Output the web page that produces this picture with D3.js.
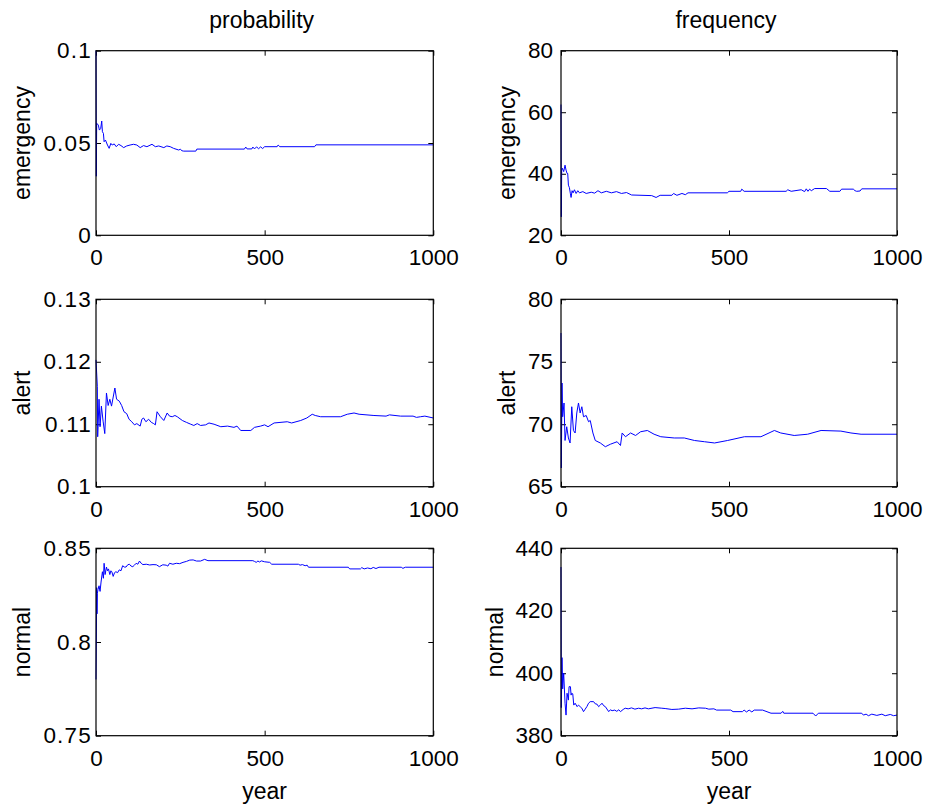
<!DOCTYPE html>
<meta charset="utf-8">
<body style="margin:0;background:#fff;">
<svg width="927" height="810"></svg>
<script src="https://cdn.jsdelivr.net/npm/d3@7"></script>
<script>
// ---- data: [year, value] ----
const xTicks = [0, 500, 1000];
const columnTitles = ["probability", "frequency"];
const rowLabels = ["emergency", "alert", "normal"];

const emergencyProbTicks = [0, 0.05, 0.1];
const alertProbTicks = [0.1, 0.11, 0.12, 0.13];
const normalProbTicks = [0.75, 0.8, 0.85];
const emergencyFreqTicks = [20, 40, 60, 80];
const alertFreqTicks = [65, 70, 75, 80];
const normalFreqTicks = [380, 400, 420, 440];

const emergencyProbability = [[0,0.1],[1,0.032],[2,0.0607],[7,0.0597],[10,0.057],[14,0.0579],[17,0.0619],[19,0.0561],
  [22,0.0552],[24,0.0507],[28,0.0516],[34,0.0489],[39,0.0471],[44,0.0498],[48,0.0489],[54,0.0495],[60,0.048],
  [67,0.0493],[74,0.0486],[82,0.0475],[91,0.0484],[101,0.0489],[111,0.0493],[121,0.0489],[131,0.0475],[141,0.0486],
  [151,0.048],[166,0.0493],[176,0.048],[186,0.0484],[201,0.0475],[210,0.0484],[220,0.048],[230,0.0471],[245,0.0462],
  [250,0.0466],[255,0.0458],[260,0.0456],[296,0.0456],[299,0.0467],[440,0.0467],[444,0.0478],[448,0.0468],
  [462,0.0468],[465,0.0478],[470,0.0468],[476,0.0479],[482,0.0469],[488,0.0479],[494,0.047],[500,0.048],
  [537,0.048],[540,0.0489],[545,0.048],[648,0.048],[652,0.049],[1000,0.049]];

const alertProbability = [[0,0.1203],[4,0.116],[5,0.108],[9,0.114],[12,0.1096],[16,0.1129],[21,0.1105],[26,0.1085],
  [31,0.115],[36,0.113],[41,0.114],[46,0.1129],[56,0.1158],[61,0.114],[69,0.1137],[76,0.113],[83,0.112],[91,0.1117],
  [98,0.1108],[106,0.1104],[114,0.1099],[121,0.1101],[131,0.1097],[136,0.1108],[141,0.111],[148,0.1104],[156,0.1108],
  [164,0.1103],[171,0.1101],[176,0.1099],[181,0.112],[191,0.1112],[201,0.1106],[211,0.1118],[218,0.1113],[226,0.1112],
  [234,0.1114],[241,0.1112],[256,0.1106],[268,0.1103],[281,0.11],[290,0.1098],[300,0.1101],[310,0.1098],[325,0.1099],
  [335,0.1102],[350,0.11],[370,0.1096],[390,0.1097],[409,0.1095],[418,0.1097],[429,0.109],[459,0.109],[470,0.1095],
  [488,0.1097],[500,0.1099],[510,0.1096],[528,0.1102],[567,0.1104],[580,0.1102],[607,0.1106],[625,0.111],
  [641,0.1116],[650,0.1114],[666,0.1112],[725,0.1112],[745,0.1116],[765,0.1118],[780,0.1116],[824,0.1114],
  [860,0.1113],[870,0.1115],[903,0.1113],[940,0.1113],[950,0.1111],[962,0.1112],[975,0.1113],[1000,0.111]];

const normalProbability = [[0,0.78],[1,0.80],[2,0.829],[3,0.815],[4,0.826],[6,0.828],[9,0.830],[12,0.827],[15,0.832],
  [19,0.8375],[22,0.834],[24,0.842],[27,0.836],[31,0.840],[34,0.838],[37,0.839],[41,0.836],[44,0.838],[47,0.8375],
  [51,0.835],[55,0.837],[59,0.8375],[64,0.837],[69,0.8385],[74,0.838],[79,0.8407],[84,0.840],[89,0.840],[94,0.8412],
  [99,0.8415],[104,0.8405],[109,0.8402],[114,0.841],[119,0.842],[124,0.8415],[129,0.8432],[134,0.842],[139,0.8413],
  [149,0.8415],[159,0.8411],[169,0.8413],[179,0.8412],[188,0.8402],[198,0.8412],[208,0.841],[213,0.8405],[218,0.842],
  [228,0.8415],[238,0.842],[248,0.8418],[258,0.8425],[268,0.843],[278,0.8437],[288,0.8438],[298,0.8432],[310,0.8432],
  [322,0.8441],[332,0.8434],[465,0.8434],[470,0.843],[475,0.8425],[480,0.8432],[485,0.8427],[490,0.8433],
  [500,0.8428],[515,0.8425],[521,0.8415],[600,0.8415],[605,0.841],[612,0.8413],[620,0.8407],[626,0.841],
  [630,0.8399],[748,0.8399],[752,0.839],[784,0.839],[788,0.8397],[795,0.839],[805,0.8395],[815,0.8391],
  [822,0.8398],[830,0.8392],[839,0.8399],[905,0.8399],[910,0.8393],[917,0.8399],[1000,0.8399]];

const emergencyFrequency = [[0,62.5],[1,26],[2,41],[4,41.8],[8,40.7],[12,42.8],[15,41.2],[18,40.1],[20,40.1],[22,36.3],
  [25,35.5],[28,33.5],[30,32.3],[33,34.5],[36,33.8],[40,34.8],[45,33.6],[50,34.5],[55,33.8],[65,34.2],[75,33.6],
  [90,34.0],[100,33.7],[110,34.5],[120,33.8],[135,34.3],[150,33.8],[165,34.2],[180,33.6],[195,33.9],[210,33.1],
  [270,32.9],[283,32.3],[295,33.0],[330,33.0],[335,33.6],[345,33.0],[360,33.6],[370,33.2],[378,33.8],[495,33.8],
  [500,34.3],[535,34.3],[538,35.0],[545,34.3],[670,34.3],[675,34.8],[685,34.3],[715,34.8],[725,34.2],[730,35.1],
  [735,34.3],[740,35.0],[745,34.5],[755,35.2],[790,35.2],[800,34.3],[830,34.3],[835,35.0],[870,35.0],[875,34.5],
  [880,34.3],[890,34.4],[895,35.1],[1000,35.1]];

const alertFrequency = [[0,77.3],[1,66.5],[3,73.3],[5,70.6],[9,71.7],[12,68.7],[17,69.8],[22,68.9],[27,68.5],[32,71.4],
  [37,69.5],[42,69.3],[47,70.9],[52,71.7],[57,70.9],[62,71.4],[67,70.6],[75,70.7],[82,70.2],[87,70.3],[95,69.3],
  [102,68.7],[117,68.5],[132,68.2],[147,68.4],[167,68.6],[177,68.3],[182,69.3],[192,69.0],[207,69.3],[222,69.1],
  [237,69.4],[257,69.5],[277,69.2],[297,69.0],[337,68.9],[367,68.9],[397,68.7],[427,68.6],[457,68.5],[496,68.7],
  [546,69.0],[595,69.0],[635,69.5],[654,69.3],[694,69.1],[734,69.2],[774,69.5],[833,69.45],[863,69.3],[893,69.2],
  [1000,69.2]];

const normalFrequency = [[0,434],[1,389],[3,405],[5,395],[8,400],[12,390.4],[15,386.6],[18,393.6],[22,391.4],
  [24,395.7],[28,395.7],[30,393],[32,393.6],[35,393.4],[38,389.8],[42,390.4],[48,389.3],[52,389.8],[57,389.3],
  [62,388.8],[67,387.7],[72,388.5],[77,389.3],[82,390.4],[87,390.9],[97,390.9],[102,390.2],[107,390.1],[112,389.3],
  [117,389.8],[122,390.4],[127,389.6],[132,389.3],[142,387.7],[147,388.3],[152,388.0],[160,388.2],[166,387.8],
  [172,388.3],[177,387.7],[185,388.4],[191,388.8],[200,388.6],[210,388.9],[220,388.5],[231,388.8],[240,388.6],
  [250,388.9],[260,388.6],[280,389.0],[300,388.8],[310,388.7],[330,388.4],[350,388.5],[370,388.8],[390,388.6],
  [410,388.9],[430,388.8],[440,388.5],[455,388.6],[463,388.2],[505,388.2],[512,387.7],[540,387.7],[545,388.2],
  [552,387.6],[560,388.2],[568,387.6],[575,388.2],[600,388.2],[625,387.2],[655,387.2],[660,387.8],[663,387.2],
  [750,387.2],[758,386.3],[766,387.2],[895,387.2],[900,386.6],[908,386.9],[915,386.4],[925,386.9],[940,386.5],
  [955,386.9],[965,386.4],[980,386.8],[990,386.4],[1000,386.6]];

// ---- layout ----
const font = "'Liberation Sans', Arial, sans-serif";
const colLeft = [96, 561], colRight = [433.3, 897];
const rowTop = [50.7, 299.3, 548.3], rowBottom = [235.3, 486.7, 735.7];
const tickPad = [4, 8];
const tickSpacing = [1.2, 0];
const labelOffset = [[-66, -66, -66], [-46, -46, -58]];

const panels = [
  {row: 0, col: 0, data: emergencyProbability, ticks: emergencyProbTicks},
  {row: 1, col: 0, data: alertProbability, ticks: alertProbTicks},
  {row: 2, col: 0, data: normalProbability, ticks: normalProbTicks},
  {row: 0, col: 1, data: emergencyFrequency, ticks: emergencyFreqTicks},
  {row: 1, col: 1, data: alertFrequency, ticks: alertFreqTicks},
  {row: 2, col: 1, data: normalFrequency, ticks: normalFreqTicks}
];

const svg = d3.select("svg");

let styleAxis = g => {
  g.select(".domain").remove();
  g.attr("font-size", 22.5).attr("font-family", font);
  g.selectAll("line").attr("stroke", "#000");
  g.selectAll("text").attr("fill", "#000");
};

panels.forEach(p => {
  let x0 = colLeft[p.col], y0 = rowTop[p.row];
  let w = colRight[p.col] - x0, h = rowBottom[p.row] - y0;
  let x = d3.scaleLinear().domain([0, 1000]).range([0, w]);
  let y = d3.scaleLinear().domain(d3.extent(p.ticks)).range([h, 0]);
  let g = svg.append("g").attr("transform", `translate(${x0},${y0})`);

  g.append("g").attr("transform", `translate(0,${h})`)
    .call(d3.axisBottom(x).tickValues(xTicks).tickSize(-5).tickPadding(14).tickFormat(d3.format("d")))
    .call(styleAxis);
  g.append("g")
    .call(d3.axisTop(x).tickValues(xTicks).tickSize(-5).tickFormat("")).call(styleAxis);
  g.append("g")
    .call(d3.axisLeft(y).tickValues(p.ticks).tickSize(-5).tickPadding(tickPad[p.col]).tickFormat(d3.format("~g")))
    .call(styleAxis)
    .selectAll("text").attr("letter-spacing", tickSpacing[p.col]);
  g.append("g").attr("transform", `translate(${w},0)`)
    .call(d3.axisRight(y).tickValues(p.ticks).tickSize(-5).tickFormat("")).call(styleAxis);

  g.append("path")
    .datum(p.data)
    .attr("fill", "none")
    .attr("stroke", "#0000ff")
    .attr("stroke-width", 1)
    .attr("d", d3.line().x(d => x(d[0])).y(d => y(d[1])));

  g.append("rect")
    .attr("width", w).attr("height", h)
    .attr("fill", "none").attr("stroke", "#000").attr("stroke-width", 1.2);

  g.append("text")
    .attr("transform", `translate(${labelOffset[p.col][p.row]},${h / 2}) rotate(-90)`)
    .attr("text-anchor", "middle")
    .attr("font-family", font).attr("font-size", 23)
    .text(rowLabels[p.row]);

  if (p.row === 0) {
    g.append("text")
      .attr("x", w / 2 - 3).attr("y", -22.4)
      .attr("text-anchor", "middle")
      .attr("font-family", font).attr("font-size", 23)
      .text(columnTitles[p.col]);
  }
  if (p.row === 2) {
    g.append("text")
      .attr("x", w / 2).attr("y", h + 63)
      .attr("text-anchor", "middle")
      .attr("font-family", font).attr("font-size", 23)
      .text("year");
  }
});
</script>
